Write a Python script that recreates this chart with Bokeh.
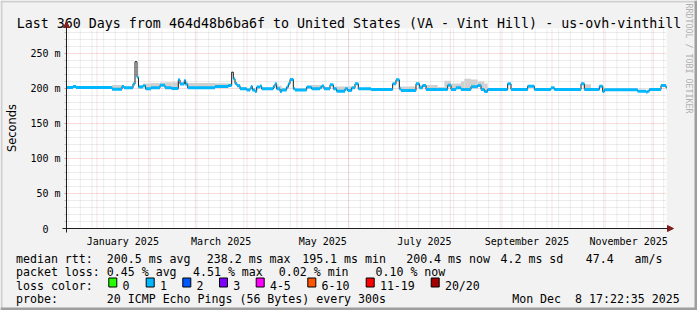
import math
import datetime as dt
from bokeh.plotting import figure
from bokeh.models import Range1d, Arrow, NormalHead
from bokeh.core.properties import value
from bokeh.embed import file_html
from bokeh.resources import INLINE

# ---------------- data ----------------
end_time = dt.datetime(2025, 12, 8, 17, 22, 35)
span_days = 360
start_time = end_time - dt.timedelta(days=span_days)

# step start (days after start), median rtt (ms), top of smoke (ms), loss-coloured?
t_days = [0.0, 3.9, 5.7, 27.3, 33.3, 34.5, 39.9, 41.1, 42.3, 43.2,
          45.9, 47.4, 50.7, 56.1, 59.1, 63.0, 67.1, 68.1, 70.7, 71.5,
          72.7, 89.1, 97.1, 99.1, 100.1, 101.1, 102.3, 104.1, 108.1, 110.1,
          110.7, 111.5, 113.1, 114.1, 116.1, 117.1, 124.1, 125.1, 126.1, 128.1,
          129.1, 132.1, 133.1, 134.1, 136.1, 137.1, 144.1, 147.1, 152.1, 153.1,
          154.5, 158.1, 160.1, 162.1, 167.1, 168.7, 171.1, 173.1, 175.1, 182.7,
          195.7, 197.7, 199.7, 200.7, 209.7, 211.7, 213.7, 215.7, 222.7, 226.7,
          228.7, 230.7, 233.7, 236.7, 238.7, 242.7, 246.7, 248.7, 250.7, 252.7,
          264.7, 266.7, 276.7, 280.7, 290.7, 292.7, 308.7, 310.7, 314.7, 319.7,
          321.7, 322.7, 342.7, 347.7, 348.7, 349.7, 356.7, 359.7]
median_ms = [201.5, 203.0, 201.5, 199.0, 203.0, 201.0, 206.5, 238.2, 216.0, 202.0,
             204.0, 199.5, 201.0, 204.5, 201.0, 200.0, 212.4, 206.5, 211.4, 206.0,
             201.0, 203.0, 204.3, 223.3, 213.8, 207.0, 204.0, 199.5, 198.0, 199.5,
             203.0, 198.0, 195.7, 202.0, 203.5, 199.5, 202.9, 206.7, 199.5, 195.7,
             198.0, 202.0, 206.7, 212.9, 199.5, 198.0, 202.0, 199.5, 201.0, 203.5,
             199.5, 205.3, 199.5, 196.0, 199.5, 197.0, 201.0, 206.7, 199.5, 198.6,
             206.7, 212.4, 199.5, 197.1, 206.7, 201.0, 204.3, 198.6, 198.6, 198.6,
             204.5, 198.6, 201.0, 198.6, 198.6, 202.4, 204.3, 198.6, 195.7, 198.6,
             206.7, 198.6, 203.3, 198.6, 201.0, 198.6, 206.7, 198.6, 198.6, 203.3,
             195.7, 198.1, 196.2, 195.1, 196.2, 198.6, 204.3, 201.0]
smoke_top_ms = [202.5, 204.0, 202.5, 205.0, 204.5, 203.0, 207.0, 239.0, 217.0, 205.0,
                207.0, 207.0, 208.0, 208.5, 209.0, 209.0, 213.0, 209.0, 212.0, 209.0,
                208.0, 207.5, 207.0, 224.0, 215.0, 208.5, 206.0, 202.0, 200.5, 201.0,
                204.0, 200.5, 199.0, 203.0, 204.0, 201.0, 203.5, 207.5, 204.0, 204.0,
                201.0, 203.0, 207.5, 213.5, 201.0, 200.0, 203.0, 205.0, 205.0, 205.0,
                202.0, 206.0, 203.0, 203.0, 203.0, 203.0, 202.0, 207.5, 200.5, 200.0,
                207.5, 213.0, 203.0, 203.0, 207.5, 205.0, 206.0, 205.0, 202.0, 211.0,
                211.0, 207.0, 207.0, 210.0, 214.0, 213.0, 210.0, 210.0, 207.0, 200.0,
                207.5, 200.0, 204.0, 200.0, 202.0, 200.0, 207.5, 206.0, 200.0, 204.0,
                203.0, 199.5, 197.5, 196.5, 197.5, 200.0, 205.0, 202.0]
colored = [1] * len(t_days)
colored[7] = 0
colored[23] = 0

y_major = [0, 50, 100, 150, 200, 250]
y_labels = ["0", "50 m", "100 m", "150 m", "200 m", "250 m"]
y_minor = [v for v in range(10, 290, 10) if v % 50 != 0]

month_labels = ["January 2025", "March 2025", "May 2025", "July 2025",
                "September 2025", "November 2025"]
label_months = [(2025, 1), (2025, 3), (2025, 5), (2025, 7), (2025, 9), (2025, 11)]

rtt_avg, rtt_max, rtt_min, rtt_now, rtt_sd, am_s = 200.5, 238.2, 195.1, 200.4, 4.2, 47.4
loss_avg, loss_max, loss_min, loss_now = 0.45, 4.51, 0.02, 0.10
loss_names = ["0", "1", "2", "3", "4-5", "6-10", "11-19", "20/20"]
loss_colors = ["#26ff00", "#00b8ff", "#0059ff", "#7e00ff", "#ff00ff",
               "#ff5500", "#ff0000", "#a10000"]

title_text = "Last 360 Days from 464d48b6ba6f to United States (VA - Vint Hill) - us-ovh-vinthill"
probe_text = "20 ICMP Echo Pings (56 Bytes) every 300s"
stamp_text = "Mon Dec\u00a0\u00a08 17:22:35 2025"


def day_of(t):
    return (t - start_time).total_seconds() / 86400.0


month_starts = []
yy, mm = 2025, 1
while dt.datetime(yy, mm, 1) <= end_time:
    month_starts.append(day_of(dt.datetime(yy, mm, 1)))
    mm += 1
    if mm == 13:
        yy, mm = yy + 1, 1
week_lines = []
d = dt.datetime(start_time.year, start_time.month, start_time.day)
while d.weekday() != 6:
    d += dt.timedelta(days=1)
while d < end_time:
    week_lines.append(day_of(d))
    d += dt.timedelta(days=7)
label_pos = []
for (ly, lm) in label_months:
    a = dt.datetime(ly, lm, 1)
    b = dt.datetime(ly + (lm // 12), lm % 12 + 1, 1)
    label_pos.append((day_of(a) + day_of(b)) / 2)

# ---------------- layout helpers (canvas pixel -> data units) ----------------
W, H = 697, 310
X0, XS, Y0, YS = 66, 600, 228, 200
y_max = 2000.0 / 7.0


def px(v):
    return (v - X0) / XS * span_days


def py(v):
    return (Y0 - v) / YS * y_max


MONO = "DejaVu Sans Mono"

p = figure(width=W, height=H, x_range=Range1d(px(0), px(W)), y_range=Range1d(py(H), py(0)),
           output_backend="svg", toolbar_location=None, title=None,
           x_axis_type=None, y_axis_type=None,
           min_border_left=0, min_border_right=0, min_border_top=0, min_border_bottom=0)
p.background_fill_color = "#f2f2f2"
p.border_fill_color = "#f2f2f2"
p.outline_line_color = None
p.grid.visible = False


def txt(x, y, s, size, align="left", baseline="alphabetic", font=MONO,
        color="#000000", angle=0.0):
    p.text(x=[x], y=[y], text=[s], text_font=value(font), text_font_size=value(size),
           text_align=value(align), text_baseline=value(baseline),
           text_color=value(color), angle=angle)


# graph canvas
p.quad(left=[0], right=[span_days], bottom=[0], top=[y_max], fill_color="white",
       line_color=None)

# grid
GRID, MGRID = "#8f8f8f", "#de4f4f"
p.segment(x0=week_lines, x1=week_lines, y0=0, y1=y_max, line_color=GRID,
          line_alpha=0.3, line_dash="1 1", line_width=1)
p.segment(x0=0, x1=span_days, y0=y_minor, y1=y_minor, line_color=GRID,
          line_alpha=0.35, line_dash="1 1", line_width=1)
p.segment(x0=month_starts, x1=month_starts, y0=0, y1=y_max, line_color=MGRID,
          line_alpha=0.33, line_dash="1 1", line_width=1)
p.segment(x0=0, x1=span_days, y0=y_major[1:], y1=y_major[1:], line_color=MGRID,
          line_alpha=0.4, line_dash="1 1", line_width=1)
# y-axis ticks
p.segment(x0=px(X0 - 2), x1=0, y0=y_minor, y1=y_minor, line_color=GRID, line_alpha=0.5)
p.segment(x0=px(X0 - 2), x1=0, y0=y_major[1:], y1=y_major[1:], line_color=MGRID,
          line_alpha=0.6)

# smoke
x_end = t_days[1:] + [span_days]
p.quad(left=t_days, right=x_end, bottom=median_ms, top=smoke_top_ms,
       fill_color="#d0d0d0", line_color=None)
# median line (thin dark) then loss-coloured thick segments
p.step(x=t_days + [span_days], y=median_ms + [median_ms[-1]], mode="after",
       line_color="#202020", line_width=1)
c_x0 = [a for a, c in zip(t_days, colored) if c]
c_x1 = [b for b, c in zip(x_end, colored) if c]
c_y = [v for v, c in zip(median_ms, colored) if c]
p.segment(x0=c_x0, x1=c_x1, y0=c_y, y1=c_y, line_color=loss_colors[1],
          line_width=3, line_cap="butt")

# axes with arrows
p.add_layout(Arrow(end=NormalHead(size=6, fill_color="#801f1f", line_color="#801f1f"),
                   x_start=0, y_start=py(Y0 + 4), x_end=0, y_end=py(Y0 - YS - 7),
                   line_color="#1f1f1f", line_width=1))
p.add_layout(Arrow(end=NormalHead(size=6, fill_color="#801f1f", line_color="#801f1f"),
                   x_start=px(X0 - 4), y_start=0, x_end=px(X0 + XS + 7), y_end=0,
                   line_color="#1f1f1f", line_width=1))

# y tick labels
for v, s in zip(y_major, y_labels):
    txt(px(48) if s == "0" else px(60), v, s, "10px", align="right", baseline="middle")
# x tick labels
for pos, s in zip(label_pos, month_labels):
    txt(pos, py(241), s, "10px", align="center")

# title, axis title, watermark
txt(px(348.5), py(23), title_text, "13.3px", align="center")
txt(px(11.5), py(127.5), "Seconds", "11.4px", align="center", baseline="middle",
    font="DejaVu Sans", angle=math.pi / 2)
txt(px(688.5), py(58), "RRDTOOL / TOBI OETIKER", "8.3px", align="center",
    baseline="middle", color="#b0b0b0", angle=-math.pi / 2)

# legend
LF = "11.6px"
row1 = [("median rtt:", 15.5), (f"{rtt_avg:.1f} ms avg", 106.3),
        (f"{rtt_max:.1f} ms max", 206.3), (f"{rtt_min:.1f} ms min", 301.7),
        (f"{rtt_now:.1f} ms now", 405.7), (f"{rtt_sd:.1f} ms sd", 500.0),
        (f"{am_s:.1f}", 585.3), ("am/s", 634.0)]
row2 = [("packet loss:", 15.5), (f"{loss_avg:.2f} % avg", 106.3),
        (f"{loss_max:.2f} % max", 192.5), (f"{loss_min:.2f} % min", 278.3),
        (f"{loss_now:.2f} % now", 375.0)]
for s, x in row1:
    txt(px(x), py(258), s, LF)
for s, x in row2:
    txt(px(x), py(271.3), s, LF)
txt(px(15.5), py(285), "loss color:", LF)
box_x = [108.3, 145.7, 182.3, 219.0, 255.7, 307.3, 365.7, 430.7]
p.quad(left=[px(b) for b in box_x], right=[px(b + 8) for b in box_x],
       top=py(277.5), bottom=py(286.5), fill_color=loss_colors,
       line_color="#000000", line_width=1)
for bx, name in zip(box_x, loss_names):
    txt(px(bx + 13.7), py(285), name, LF)
txt(px(15.5), py(298.5), "probe:", LF)
txt(px(106.3), py(298.5), probe_text, LF)
txt(px(511.7), py(298.5), stamp_text, LF)

# 3D border
bl = [0, 0, 0, W - 3]
br = [W, 2, W, W]
bt = [0, 0, H - 3, 0]
bb = [2, H, H, H]
p.quad(left=[px(v) for v in bl], right=[px(v) for v in br],
       top=[py(v) for v in bt], bottom=[py(v) for v in bb],
       fill_color=["#cfcfcf", "#cfcfcf", "#9e9e9e", "#9e9e9e"], line_color=None)

open("out.html", "w").write(file_html(p, INLINE))
